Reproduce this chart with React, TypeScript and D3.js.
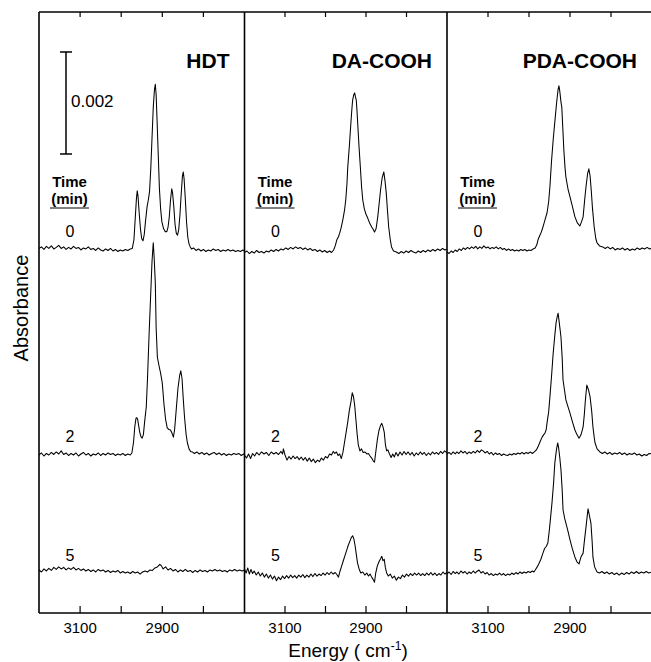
import React from "react";
import * as d3 from "d3";

type Pt = [number, number];

const panelNames = ["HDT", "DA-COOH", "PDA-COOH"];
const timeLabels = ["0", "2", "5"];
const tickValues = [3100, 3000, 2900, 2800];
const tickLabelValues = [3100, 2900];
// vertical stacking offsets of the traces (absorbance, units of 1e-3)
const traceOffsets = [7.118, 3.098, 0.804];
const scaleBarBottom = 9.0; // 1e-3
const scaleBarLength = 2.0; // 1e-3 -> 0.002

// ---- HDT ----
const hdt0: Pt[] = [
  [3200,0.03],[3194,0.06],[3188,0.01],[3182,0.07],[3176,0.03],[3170,0.08],[3164,0.02],[3158,0.05],[3152,0.09],[3146,0.03],[3140,0.06],[3134,0.01],[3128,0.05],[3122,0.02],[3116,0.07],[3110,0.03],[3104,0.05],[3098,0.0],[3092,0.04],[3086,0.02],[3080,0.06],[3074,0.01],[3068,0.03],[3062,-0.01],[3056,0.04],[3050,0.0],[3044,-0.02],[3038,0.02],[3032,-0.01],[3026,0.03],[3020,-0.02],[3014,0.01],[3008,-0.03],[3002,0.0],[2996,-0.02],[2990,0.01],[2984,-0.01],[2978,0.02],[2973,0.03],
  [2969,0.2],[2966,0.6],[2963,1.0],[2961,1.16],[2959,1.05],[2956,0.7],[2953,0.4],[2950,0.22],[2947,0.18],[2944,0.3],[2941,0.55],[2937,0.85],[2934,0.98],[2931,1.15],[2928,1.6],[2925,2.2],[2922,2.8],[2919,3.15],[2917,3.25],[2915,3.05],[2913,2.6],[2910,1.9],[2907,1.2],[2904,0.8],[2901,0.55],[2897,0.42],[2893,0.36],[2889,0.36],[2886,0.45],[2883,0.65],[2880,0.98],[2877,1.2],[2875,1.12],[2872,0.85],[2869,0.5],[2866,0.33],[2863,0.29],[2860,0.4],[2857,0.7],[2854,1.1],[2851,1.45],[2849,1.53],[2847,1.4],[2844,1.0],[2841,0.55],[2838,0.25],[2835,0.12],[2832,0.06],[2829,0.02],
  [2824,0.04],[2818,-0.01],[2812,0.02],[2806,-0.02],[2800,0.01],[2794,-0.03],[2788,0.0],[2782,-0.02],[2776,0.02],[2770,-0.01],[2764,0.01],[2758,-0.03],[2752,0.0],[2746,-0.02],[2740,0.01],[2734,-0.02],[2728,0.0],[2722,-0.03],[2716,-0.01],[2710,-0.03],[2704,0.0],[2700,-0.02],
];
const hdt2: Pt[] = [
  [3200,0.0],[3194,0.04],[3188,-0.02],[3182,0.03],[3176,0.0],[3170,0.05],[3164,0.01],[3158,0.06],[3152,0.02],[3146,0.08],[3140,0.01],[3134,0.04],[3128,-0.01],[3122,0.03],[3116,0.0],[3110,0.04],[3104,-0.02],[3098,0.02],[3092,0.05],[3086,0.0],[3080,0.03],[3074,-0.02],[3068,0.02],[3062,0.0],[3056,0.04],[3050,-0.01],[3044,0.03],[3038,0.0],[3032,0.04],[3026,0.01],[3020,0.03],[3014,-0.01],[3008,0.02],[3002,0.0],[2996,0.03],[2990,-0.01],[2984,0.02],[2978,0.0],[2974,0.04],
  [2970,0.25],[2967,0.55],[2964,0.72],[2962,0.73],[2960,0.7],[2958,0.6],[2955,0.45],[2952,0.36],[2949,0.33],[2946,0.4],[2943,0.65],[2939,0.94],[2936,1.5],[2932,2.39],[2928,3.2],[2925,3.8],[2922,4.16],[2920,3.9],[2917,3.37],[2915,2.5],[2912,1.92],[2908,1.75],[2904,1.6],[2900,1.41],[2896,1.0],[2892,0.7],[2888,0.53],[2884,0.5],[2880,0.49],[2876,0.42],[2873,0.35],[2870,0.5],[2866,0.9],[2862,1.3],[2858,1.55],[2855,1.65],[2852,1.5],[2849,1.1],[2846,0.75],[2842,0.4],[2839,0.24],[2835,0.12],[2831,0.07],[2827,0.06],
  [2822,0.03],[2816,0.06],[2810,0.02],[2804,0.05],[2798,0.01],[2792,0.04],[2786,0.0],[2780,0.03],[2774,0.05],[2768,0.01],[2762,0.04],[2756,0.0],[2750,0.03],[2744,-0.01],[2738,0.02],[2732,0.0],[2726,0.03],[2720,0.01],[2714,0.03],[2708,-0.01],[2702,0.02],[2700,0.0],
];
const hdt5: Pt[] = [
  [3200,0.04],[3194,0.0],[3188,0.06],[3182,0.02],[3176,0.07],[3170,0.03],[3164,0.09],[3158,0.05],[3152,0.1],[3146,0.06],[3140,0.09],[3134,0.04],[3128,0.08],[3122,0.05],[3116,0.09],[3110,0.04],[3104,0.07],[3098,0.03],[3092,0.06],[3086,0.02],[3080,0.05],[3074,0.01],[3068,0.04],[3062,0.0],[3056,0.05],[3050,0.02],[3044,0.04],[3038,0.0],[3032,0.03],[3026,-0.01],[3020,0.02],[3014,0.0],[3008,0.03],[3002,-0.02],[2996,0.01],[2990,-0.02],[2984,0.0],[2978,-0.03],[2972,0.01],[2966,-0.02],[2960,0.0],[2954,-0.04],[2948,0.0],[2942,0.02],[2936,0.0],[2930,0.04],[2924,0.03],[2918,0.08],[2912,0.1],[2906,0.15],[2902,0.12],[2898,0.06],[2892,0.1],[2886,0.04],[2880,0.07],[2874,0.02],[2868,0.05],[2862,0.0],[2856,0.04],[2850,0.01],[2844,0.05],[2838,0.01],[2832,0.03],[2826,-0.01],[2820,0.03],[2814,0.0],[2808,0.04],[2802,0.01],[2796,0.03],[2790,0.0],[2784,0.04],[2778,0.02],[2772,0.05],[2766,0.02],[2760,0.04],[2754,0.01],[2748,0.03],[2742,0.0],[2736,0.04],[2730,0.02],[2724,0.05],[2718,0.02],[2712,0.04],[2706,0.02],[2700,0.04],
];

// ---- DA-COOH ----
const da0: Pt[] = [
  [3200,-0.05],[3194,-0.02],[3188,-0.07],[3182,-0.03],[3176,-0.06],[3170,-0.01],[3164,-0.05],[3158,-0.03],[3152,-0.06],[3146,-0.02],[3140,-0.04],[3134,0.0],[3128,-0.03],[3122,0.01],[3116,-0.02],[3110,0.02],[3104,0.0],[3098,0.04],[3092,0.01],[3086,0.05],[3080,0.02],[3074,0.06],[3068,0.03],[3062,0.05],[3056,0.01],[3050,0.04],[3044,0.0],[3038,0.03],[3032,-0.01],[3026,0.01],[3020,-0.03],[3014,0.0],[3008,-0.04],[3002,-0.01],[2996,-0.05],[2990,-0.02],[2985,-0.05],[2980,0.0],
  [2976,0.08],[2972,0.2],[2968,0.26],[2965,0.33],[2961,0.45],[2957,0.6],[2953,0.78],[2950,0.98],[2947,1.3],[2945,1.63],[2941,2.05],[2938,2.41],[2935,2.75],[2933,2.94],[2930,3.05],[2928,3.08],[2926,3.0],[2924,2.94],[2922,2.7],[2920,2.41],[2917,2.0],[2914,1.63],[2911,1.25],[2908,0.98],[2904,0.8],[2900,0.7],[2896,0.63],[2891,0.53],[2886,0.45],[2882,0.4],[2879,0.35],[2875,0.42],[2871,0.65],[2867,0.95],[2864,1.18],[2860,1.42],[2856,1.53],[2853,1.35],[2850,1.12],[2847,0.78],[2844,0.45],[2840,0.2],[2837,0.06],[2832,-0.02],[2825,-0.04],
  [2819,-0.07],[2813,-0.03],[2807,-0.06],[2801,-0.02],[2795,-0.05],[2789,-0.01],[2783,-0.04],[2777,-0.06],[2771,-0.02],[2765,-0.05],[2759,-0.01],[2753,-0.04],[2747,0.0],[2741,-0.03],[2735,0.01],[2729,-0.02],[2723,0.02],[2717,-0.01],[2711,0.03],[2705,0.0],[2700,0.02],
];
const da2: Pt[] = [
  [3200,0.0],[3195,-0.06],[3190,0.02],[3185,-0.07],[3180,0.03],[3175,-0.02],[3170,0.05],[3164,0.0],[3158,0.06],[3152,0.02],[3146,0.05],[3140,-0.01],[3134,0.06],[3128,0.02],[3122,0.05],[3116,0.01],[3110,0.07],[3106,0.02],[3104,0.12],[3100,0.0],[3095,-0.1],[3090,-0.03],[3085,-0.08],[3080,-0.02],[3075,-0.07],[3070,-0.03],[3065,-0.09],[3060,-0.04],[3055,-0.1],[3050,-0.05],[3045,-0.12],[3040,-0.06],[3035,-0.13],[3030,-0.08],[3025,-0.15],[3020,-0.1],[3015,-0.13],[3010,-0.06],[3005,-0.1],[3000,-0.03],[2995,-0.06],[2990,0.02],[2985,0.0],[2981,0.07],[2977,0.03],[2973,0.06],[2969,-0.01],[2965,0.02],[2961,-0.07],[2957,0.05],
  [2953,0.25],[2949,0.45],[2945,0.65],[2941,0.88],[2937,1.05],[2934,1.22],[2931,1.15],[2928,0.98],[2925,0.7],[2922,0.42],[2919,0.2],[2915,0.08],[2911,0.12],[2907,0.05],[2903,0.06],[2898,0.02],[2894,0.03],[2890,-0.02],[2886,-0.06],[2882,-0.12],[2879,-0.14],[2876,0.05],[2872,0.3],[2868,0.48],[2864,0.58],[2861,0.62],[2858,0.55],[2855,0.45],[2852,0.2],[2849,0.08],[2846,0.1],[2842,0.02],[2838,-0.05],[2834,0.02],[2830,-0.04],[2826,0.05],
  [2821,-0.02],[2816,0.06],[2811,0.0],[2806,0.07],[2801,0.01],[2796,0.06],[2791,0.0],[2786,0.05],[2781,-0.02],[2776,0.04],[2771,0.0],[2766,0.06],[2761,0.01],[2756,0.05],[2751,-0.01],[2746,0.04],[2741,0.0],[2736,0.06],[2731,0.02],[2726,0.05],[2721,0.01],[2716,0.07],[2711,0.03],[2706,0.08],[2700,0.04],
];
const da5: Pt[] = [
  [3200,0.06],[3196,-0.02],[3192,0.08],[3188,-0.04],[3184,0.05],[3180,-0.03],[3176,0.02],[3171,-0.06],[3166,0.0],[3161,-0.08],[3156,-0.02],[3151,-0.1],[3146,-0.04],[3141,-0.12],[3136,-0.06],[3131,-0.14],[3126,-0.08],[3121,-0.17],[3116,-0.1],[3111,-0.15],[3106,-0.08],[3101,-0.13],[3096,-0.07],[3091,-0.12],[3086,-0.06],[3081,-0.11],[3076,-0.07],[3071,-0.12],[3066,-0.06],[3061,-0.1],[3056,-0.05],[3051,-0.11],[3046,-0.06],[3041,-0.1],[3036,-0.04],[3031,-0.09],[3026,-0.03],[3021,-0.08],[3016,-0.04],[3011,-0.07],[3006,-0.02],[3001,-0.06],[2996,-0.01],[2991,-0.05],[2986,0.0],[2981,-0.04],[2976,-0.01],[2972,-0.05],[2968,-0.1],
  [2964,0.02],[2960,0.12],[2956,0.22],[2952,0.32],[2948,0.42],[2944,0.52],[2940,0.6],[2936,0.68],[2933,0.71],[2930,0.65],[2927,0.52],[2924,0.35],[2921,0.18],[2917,0.06],[2913,-0.02],[2908,0.0],[2903,-0.06],[2898,-0.02],[2894,-0.08],[2890,-0.04],[2886,-0.1],[2882,-0.15],[2879,-0.2],[2876,-0.02],[2872,0.12],[2868,0.2],[2864,0.26],[2861,0.31],[2858,0.22],[2855,0.25],[2852,0.08],[2849,-0.02],[2845,-0.08],
  [2840,-0.04],[2835,-0.12],[2830,-0.08],[2825,-0.16],[2820,-0.1],[2815,-0.13],[2810,-0.06],[2805,-0.1],[2800,-0.04],[2795,-0.08],[2790,-0.03],[2785,-0.07],[2780,-0.02],[2775,-0.06],[2770,-0.02],[2765,-0.07],[2760,-0.03],[2755,-0.07],[2750,-0.02],[2745,-0.06],[2740,-0.01],[2735,-0.06],[2730,-0.02],[2725,-0.07],[2720,-0.03],[2715,-0.06],[2710,0.0],[2705,-0.04],[2700,0.0],
];

// ---- PDA-COOH ----
const pda0: Pt[] = [
  [3200,-0.04],[3195,-0.07],[3190,-0.02],[3185,-0.05],[3180,0.0],[3175,-0.03],[3170,0.02],[3165,-0.01],[3160,0.04],[3155,0.01],[3150,0.05],[3145,0.02],[3140,0.06],[3135,0.03],[3130,0.07],[3125,0.02],[3120,0.06],[3115,0.03],[3110,0.08],[3105,0.04],[3100,0.06],[3095,0.02],[3090,0.05],[3085,0.03],[3080,0.06],[3075,0.02],[3070,0.05],[3065,0.01],[3060,0.03],[3055,-0.01],[3050,0.02],[3045,-0.01],[3040,0.01],[3035,-0.02],[3030,0.0],[3025,-0.02],[3020,0.01],[3015,-0.01],[3010,0.01],[3005,-0.02],[3000,0.0],[2995,-0.01],[2990,0.02],[2985,0.04],
  [2981,0.1],[2978,0.2],[2974,0.28],[2970,0.35],[2966,0.45],[2961,0.59],[2956,0.73],[2952,0.95],[2949,1.24],[2945,1.75],[2941,2.16],[2936,2.6],[2932,2.94],[2929,3.15],[2927,3.22],[2925,3.12],[2922,2.9],[2920,2.8],[2917,2.3],[2915,1.96],[2912,1.6],[2910,1.43],[2905,1.2],[2900,1.04],[2894,0.85],[2888,0.65],[2882,0.53],[2876,0.47],[2872,0.55],[2868,0.65],[2864,1.0],[2861,1.24],[2857,1.5],[2854,1.59],[2851,1.45],[2848,1.15],[2845,0.8],[2841,0.45],[2837,0.22],[2834,0.14],[2828,0.08],[2820,0.06],
  [2814,0.03],[2808,0.06],[2802,0.02],[2796,0.05],[2790,0.0],[2784,0.03],[2778,0.01],[2772,0.04],[2766,0.0],[2760,0.03],[2754,-0.01],[2748,0.02],[2742,0.0],[2736,0.04],[2730,0.01],[2724,0.04],[2718,0.02],[2712,0.05],[2706,0.02],[2700,0.04],
];
const pda2: Pt[] = [
  [3200,0.02],[3195,0.05],[3190,0.01],[3185,0.06],[3180,0.02],[3176,0.06],[3171,0.03],[3166,0.08],[3161,0.04],[3156,0.07],[3151,0.02],[3146,0.06],[3141,0.03],[3136,0.07],[3131,0.04],[3126,0.09],[3121,0.05],[3116,0.1],[3112,0.08],[3107,0.04],[3102,0.07],[3097,0.02],[3092,0.05],[3087,0.0],[3082,0.04],[3077,0.01],[3072,0.03],[3067,-0.01],[3062,0.02],[3057,0.0],[3052,-0.01],[3047,0.02],[3042,0.0],[3037,0.03],[3032,0.01],[3027,0.04],[3022,0.02],[3017,0.05],[3012,0.02],[3007,0.05],[3002,0.03],[2997,0.06],[2992,0.03],[2987,0.06],
  [2982,0.1],[2978,0.16],[2973,0.26],[2968,0.35],[2964,0.4],[2961,0.43],[2958,0.5],[2956,0.63],[2952,0.85],[2949,1.14],[2945,1.55],[2941,2.0],[2937,2.35],[2934,2.59],[2931,2.72],[2929,2.78],[2927,2.65],[2924,2.45],[2922,2.31],[2919,1.9],[2917,1.47],[2913,1.25],[2910,1.08],[2905,0.95],[2900,0.82],[2894,0.65],[2888,0.49],[2883,0.4],[2878,0.33],[2873,0.4],[2868,0.55],[2865,0.8],[2863,1.02],[2861,1.2],[2859,1.37],[2855,1.28],[2851,1.14],[2847,0.85],[2844,0.55],[2841,0.35],[2839,0.24],[2834,0.12],[2827,0.06],
  [2821,0.03],[2815,0.06],[2809,0.02],[2803,0.05],[2797,0.01],[2791,0.04],[2785,0.02],[2779,0.05],[2773,0.01],[2767,0.04],[2761,0.0],[2755,0.03],[2749,0.01],[2743,0.04],[2737,0.0],[2731,0.02],[2725,-0.02],[2719,0.01],[2713,-0.01],[2707,0.03],[2700,0.02],
];
const pda5: Pt[] = [
  [3200,-0.04],[3195,0.0],[3190,-0.05],[3185,0.01],[3180,-0.03],[3176,0.0],[3171,-0.04],[3166,0.02],[3161,-0.02],[3156,0.01],[3151,-0.04],[3146,0.0],[3141,-0.03],[3136,0.02],[3131,-0.02],[3127,0.01],[3122,0.04],[3117,-0.02],[3112,0.01],[3107,-0.04],[3102,-0.01],[3097,-0.06],[3092,-0.03],[3087,-0.07],[3082,-0.04],[3077,-0.06],[3072,-0.02],[3067,-0.06],[3062,-0.03],[3057,-0.07],[3052,-0.04],[3047,-0.06],[3042,-0.02],[3037,-0.05],[3032,-0.01],[3027,-0.04],[3022,0.0],[3017,-0.03],[3012,0.0],[3007,-0.02],[3002,0.01],[2997,-0.01],[2992,0.02],[2988,0.0],
  [2984,0.05],[2980,0.1],[2976,0.16],[2971,0.25],[2966,0.37],[2962,0.46],[2958,0.5],[2954,0.57],[2950,0.85],[2947,1.1],[2944,1.35],[2940,1.75],[2937,2.14],[2933,2.4],[2930,2.53],[2928,2.45],[2925,2.25],[2922,2.0],[2919,1.6],[2917,1.22],[2913,1.05],[2910,0.96],[2905,0.8],[2900,0.63],[2894,0.45],[2888,0.29],[2883,0.2],[2878,0.16],[2873,0.3],[2868,0.37],[2865,0.6],[2861,0.88],[2858,1.1],[2856,1.24],[2853,1.12],[2849,0.96],[2846,0.6],[2844,0.29],[2840,0.1],[2834,0.0],[2828,-0.02],
  [2822,0.01],[2816,-0.03],[2810,0.0],[2804,-0.04],[2798,-0.01],[2792,-0.05],[2786,-0.02],[2780,-0.06],[2774,-0.02],[2768,-0.05],[2762,-0.01],[2756,-0.04],[2750,0.0],[2744,-0.03],[2738,0.01],[2732,-0.03],[2726,0.0],[2720,-0.02],[2714,0.01],[2708,-0.02],[2700,0.0],
];

const spectra: Pt[][][] = [
  [hdt0, hdt2, hdt5],
  [da0, da2, da5],
  [pda0, pda2, pda5],
];

const W = 651;
const H = 662;
const TOP = 12;
const BOTTOM = 613;
const panelEdges = [39, 244.5, 447, 652];
const FONT = "'Liberation Sans', Arial, Helvetica, sans-serif";

export default function App() {
  const y = d3.scaleLinear().domain([0, 11.784]).range([BOTTOM, TOP]);
  const xScales = panelNames.map((_, i) =>
    d3.scaleLinear().domain([3200, 2700]).range([panelEdges[i], panelEdges[i + 1]])
  );
  const timeLabelY = [237, 442, 561];

  return (
    <svg
      width={W}
      height={H}
      style={{ position: "absolute", left: 0, top: 0, background: "#fff" }}
      fontFamily={FONT}
    >
      <rect x={0} y={0} width={W} height={H} fill="#fff" />
      <defs>
        {panelNames.map((_, i) => (
          <clipPath id={`clip${i}`} key={i}>
            <rect x={panelEdges[i]} y={0} width={panelEdges[i + 1] - panelEdges[i]} height={H} />
          </clipPath>
        ))}
      </defs>

      {/* spectra */}
      {spectra.map((panel, pi) => {
        const x = xScales[pi];
        return (
          <g key={pi} clipPath={`url(#clip${pi})`}>
            {panel.map((series, ti) => {
              const line = d3
                .line<Pt>()
                .x((d) => x(d[0]))
                .y((d) => y(traceOffsets[ti] + d[1]));
              return (
                <path
                  key={ti}
                  d={line(series) || ""}
                  fill="none"
                  stroke="#000"
                  strokeWidth={1.05}
                  strokeLinejoin="round"
                />
              );
            })}
          </g>
        );
      })}

      {/* frame */}
      <g stroke="#000" strokeWidth={1.6} fill="none">
        <line x1={panelEdges[0]} x2={W} y1={TOP} y2={TOP} />
        <line x1={panelEdges[0]} x2={W} y1={BOTTOM} y2={BOTTOM} />
        {panelEdges.slice(0, 3).map((e, i) => (
          <line key={i} x1={e} x2={e} y1={TOP} y2={BOTTOM} />
        ))}
      </g>

      {/* ticks and labels */}
      {xScales.map((x, pi) => (
        <g key={pi}>
          {tickValues.map((t) => (
            <g key={t} stroke="#000" strokeWidth={1.2}>
              <line x1={x(t)} x2={x(t)} y1={TOP} y2={TOP + 5} />
              <line x1={x(t)} x2={x(t)} y1={BOTTOM} y2={BOTTOM - 7} />
            </g>
          ))}
          {tickLabelValues.map((t) => (
            <text key={t} x={x(t)} y={633} textAnchor="middle" fontSize={15} fill="#000">
              {t}
            </text>
          ))}
          <text
            x={panelEdges[pi + 1] - 15}
            y={68}
            textAnchor="end"
            fontSize={21}
            fontWeight="bold"
            fill="#000"
          >
            {panelNames[pi]}
          </text>
          <g>
            <text x={panelEdges[pi] + 30.5} y={187} textAnchor="middle" fontSize={15} fontWeight="bold">
              Time
            </text>
            <text x={panelEdges[pi] + 30.5} y={204} textAnchor="middle" fontSize={15} fontWeight="bold">
              (min)
            </text>
            <line
              x1={panelEdges[pi] + 11}
              x2={panelEdges[pi] + 50}
              y1={208}
              y2={208}
              stroke="#000"
              strokeWidth={1.2}
            />
          </g>
          {timeLabels.map((tl, ti) => (
            <text key={tl} x={panelEdges[pi] + 31} y={timeLabelY[ti]} textAnchor="middle" fontSize={16}>
              {tl}
            </text>
          ))}
        </g>
      ))}

      {/* scale bar */}
      <g stroke="#000" strokeWidth={1.5}>
        <line x1={66} x2={66} y1={y(scaleBarBottom)} y2={y(scaleBarBottom + scaleBarLength)} />
        <line x1={60} x2={72} y1={y(scaleBarBottom)} y2={y(scaleBarBottom)} />
        <line x1={60} x2={72} y1={y(scaleBarBottom + scaleBarLength)} y2={y(scaleBarBottom + scaleBarLength)} />
      </g>
      <text x={71} y={107} fontSize={17}>
        0.002
      </text>

      {/* axis titles */}
      <text x={348} y={657} textAnchor="middle" fontSize={19}>
        Energy ( cm
        <tspan fontSize={12} dy={-7}>-1</tspan>
        <tspan dy={7}>)</tspan>
      </text>
      <text transform="translate(28,308) rotate(-90)" textAnchor="middle" fontSize={20}>
        Absorbance
      </text>
    </svg>
  );
}
